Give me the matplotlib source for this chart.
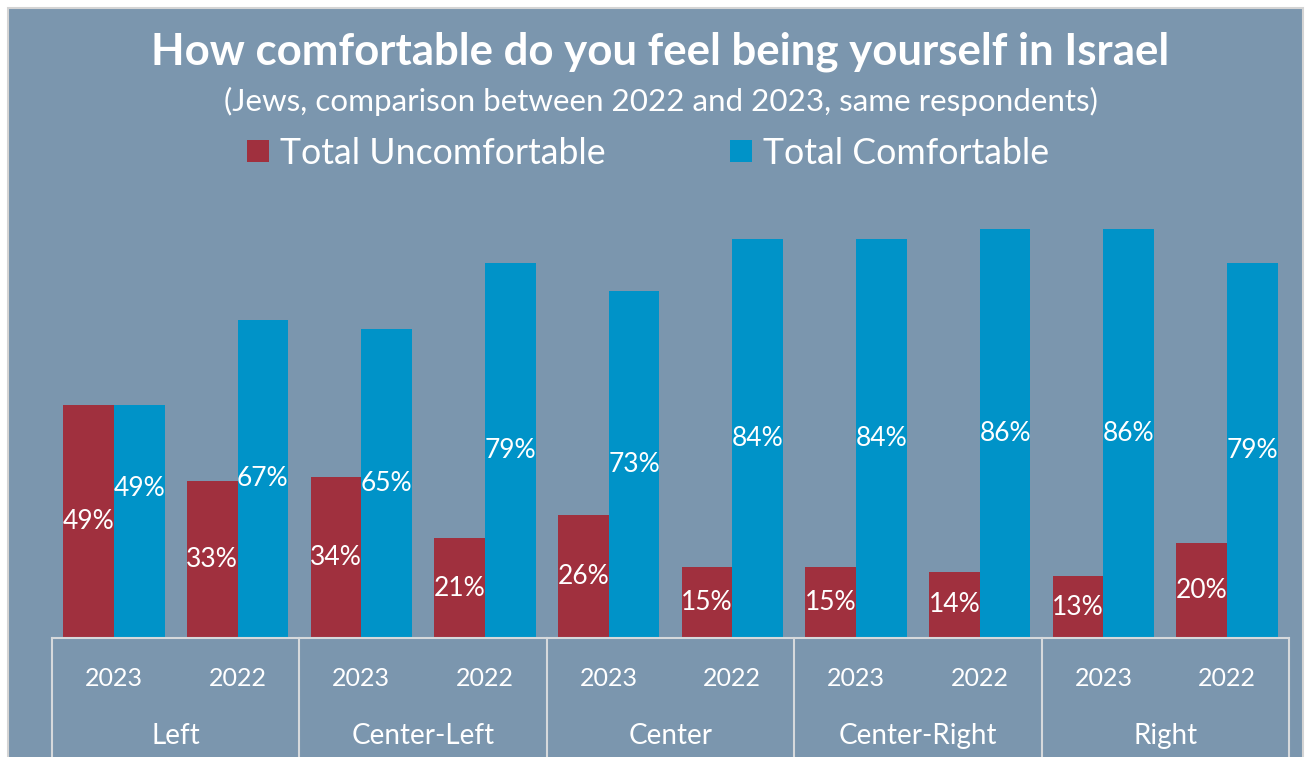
import matplotlib
matplotlib.use("Agg")

import numpy as np
import matplotlib.pyplot as plt
from matplotlib.patches import Rectangle

plt.rcParams['font.family'] = ['Lato', 'DejaVu Sans']

groups = ['Left', 'Center-Left', 'Center', 'Center-Right', 'Right']
years = ['2023', '2022']
uncomfortable = [49, 33, 34, 21, 26, 15, 15, 14, 13, 20]
comfortable = [49, 67, 65, 79, 73, 84, 84, 86, 86, 79]

bg = '#7b96ae'
red = '#a0303e'
blue = '#0093c8'
line_col = '#d6d9dc'

W, H = 1312, 757
fig = plt.figure(figsize=(W / 100, H / 100), dpi=100)
fig.patch.set_facecolor('white')
fig.add_artist(Rectangle((8 / W, -0.05), (W - 9) / W - 8 / W, (H - 8) / H + 0.05,
                         transform=fig.transFigure, facecolor=bg,
                         edgecolor='#d4d4d4', linewidth=1.5, zorder=0))

# plot area in pixels: x 52..1289, baseline at y=638
ax = fig.add_axes([52 / W, (H - 638) / H, (1289 - 52) / W, 438 / H])
ax.set_facecolor('none')
n = len(uncomfortable)
x = np.arange(n)
bw = 0.41
ax.bar(x - bw / 2, uncomfortable, bw, color=red, label='Total Uncomfortable')
ax.bar(x + bw / 2, comfortable, bw, color=blue, label='Total Comfortable')

ax.set_xlim(-0.5, n - 0.5)
ax.set_ylim(0, 438 / 4.75)
for s in ['top', 'left', 'right']:
    ax.spines[s].set_visible(False)
ax.spines['bottom'].set_color(line_col)
ax.spines['bottom'].set_linewidth(1.5)
ax.set_xticks([])
ax.set_yticks([])

# value labels in the middle of each bar
label_kw = dict(ha='center', va='center', color='white', fontsize=19)
for i in range(n):
    ax.text(x[i] - bw / 2, uncomfortable[i] / 2, f'{uncomfortable[i]}%', **label_kw)
    yb = comfortable[i] / 2
    if comfortable[i] == uncomfortable[i]:
        yb += 7
    ax.text(x[i] + bw / 2, yb, f'{comfortable[i]}%', **label_kw)

# two-level category axis
tr = ax.get_xaxis_transform()
bottom = -(H - 638) / 438
for k in range(len(groups) + 1):
    ax.plot([2 * k - 0.5] * 2, [0, bottom], transform=tr, color=line_col,
            lw=1.5, clip_on=False)
for i in range(n):
    ax.text(x[i], -40 / 438, years[i % 2], transform=tr, ha='center',
            va='center', color='white', fontsize=18)
for k, g in enumerate(groups):
    ax.text(2 * k + 0.5, -98 / 438, g, transform=tr, ha='center',
            va='center', color='white', fontsize=20)

fig.text(660 / W, 1 - 52 / H, 'How comfortable do you feel being yourself in Israel',
         ha='center', va='center', color='white', fontsize=31.5, fontweight='bold')
fig.text(661 / W, 1 - 101 / H,
         '(Jews, comparison between 2022 and 2023, same respondents)',
         ha='center', va='center', color='white', fontsize=22.6)

leg = fig.legend(loc='center', bbox_to_anchor=(648 / W, 1 - 153 / H), ncol=2,
                 frameon=False, fontsize=25.7, labelcolor='white',
                 handlelength=0.6, handleheight=0.6, handletextpad=0.31,
                 columnspacing=3.5)

fig.savefig('out.png', dpi=100, facecolor=fig.get_facecolor())
